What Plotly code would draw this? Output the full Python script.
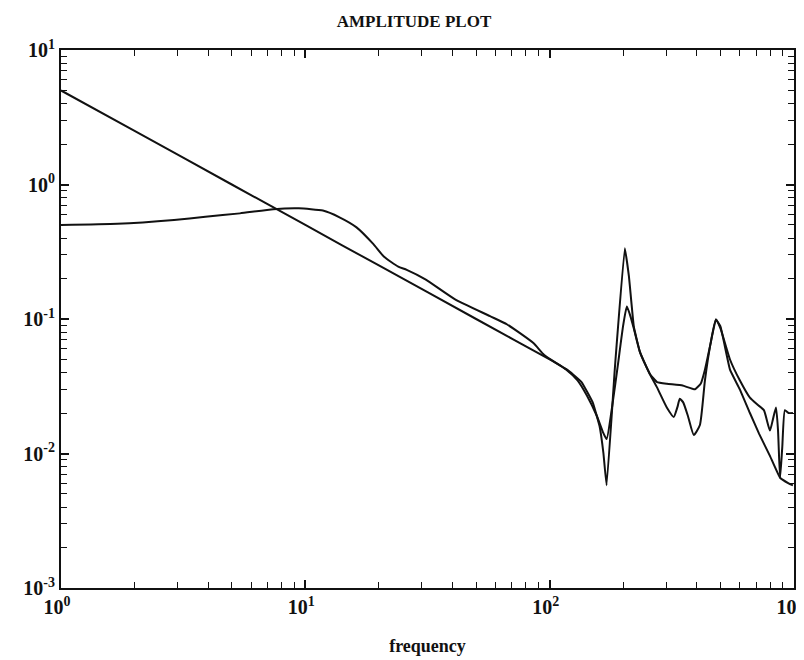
import plotly.graph_objects as go

# curve with the broad bump (measured)
freq_a = [1, 1.7, 2.9, 3.9, 5.4, 7.4, 9.4, 11.8, 13.8, 16.2, 19, 21, 24, 26, 31, 41, 57, 67, 86, 95,
          117, 130, 142, 156, 165, 171, 180, 190, 200, 207, 214, 221, 234, 257, 275, 302, 322, 333,
          341, 352, 368, 389, 412, 432, 455, 479, 500, 547, 600, 660, 710, 753, 797, 820, 844, 860,
          877, 895, 918, 950, 990]
amp_a = [0.50, 0.51, 0.545, 0.575, 0.61, 0.655, 0.665, 0.64, 0.57, 0.48, 0.36, 0.29, 0.245, 0.232,
         0.197, 0.14, 0.105, 0.091, 0.066, 0.054, 0.042, 0.035, 0.027, 0.019, 0.0145, 0.0128, 0.022,
         0.045, 0.09, 0.124, 0.105, 0.085, 0.057, 0.039, 0.031, 0.0219, 0.0187, 0.022, 0.0255, 0.024,
         0.019, 0.0137, 0.0163, 0.035, 0.065, 0.099, 0.085, 0.05, 0.035, 0.026, 0.023, 0.021, 0.0148,
         0.018, 0.022, 0.015, 0.0066, 0.011, 0.021, 0.020, 0.020]

# curve following 5/f at low frequency (model)
freq_b = [1, 2, 5, 10, 20, 50, 100, 120, 135, 150, 160, 166, 171, 185, 203, 211, 221, 234, 257,
          275, 302, 350, 393, 415, 432, 455, 479, 500, 547, 600, 660, 720, 797, 877, 950, 990]
amp_b = [5, 2.5, 1, 0.5, 0.25, 0.1, 0.05, 0.041, 0.034, 0.024, 0.016, 0.01, 0.0058, 0.044, 0.336,
         0.208, 0.088, 0.057, 0.039, 0.034, 0.033, 0.032, 0.030, 0.033, 0.042, 0.065, 0.099, 0.088,
         0.042, 0.030, 0.020, 0.014, 0.0096, 0.0066, 0.0060, 0.0058]

x_ticks = [1, 10, 100, 1000]
x_labels = ["10<sup>0</sup>", "10<sup>1</sup>", "10<sup>2</sup>", "10<sup>3</sup>"]
y_ticks = [0.001, 0.01, 0.1, 1, 10]
y_labels = ["10<sup>-3</sup>", "10<sup>-2</sup>", "10<sup>-1</sup>", "10<sup>0</sup>", "10<sup>1</sup>"]

x_minor = [m * d for d in [1, 10, 100] for m in range(2, 10)]
y_minor = [m * d for d in [0.001, 0.01, 0.1, 1] for m in range(2, 10)]

fnt = "Liberation Serif, Times New Roman, serif"
black = "#111"

fig = go.Figure()
fig.add_trace(go.Scatter(x=freq_a, y=amp_a, mode="lines",
                         line=dict(color=black, width=2, shape="spline", smoothing=0.5),
                         showlegend=False))
fig.add_trace(go.Scatter(x=freq_b, y=amp_b, mode="lines",
                         line=dict(color=black, width=2, shape="spline", smoothing=0.3),
                         showlegend=False))

axis_common = dict(
    type="log", showgrid=False, zeroline=False, automargin=False,
    showline=True, linecolor=black, linewidth=2, mirror="allticks",
    ticks="inside", ticklen=8, tickwidth=1.5, tickcolor=black,
    tickfont=dict(family=fnt, size=20, color=black, weight="bold"),
)

fig.update_xaxes(range=[0, 3], tickvals=x_ticks, ticktext=x_labels, ticklabelshift=-4,
                 minor=dict(tickvals=x_minor, ticks="inside", ticklen=6, tickwidth=1.3,
                            tickcolor=black, showgrid=False),
                 title=dict(text="frequency", font=dict(family=fnt, size=18, color=black, weight="bold"),
                            standoff=22),
                 **axis_common)
fig.update_yaxes(range=[-3, 1], tickvals=y_ticks, ticktext=y_labels,
                 minor=dict(tickvals=y_minor, ticks="inside", ticklen=6, tickwidth=1.3,
                            tickcolor=black, showgrid=False),
                 **axis_common)

fig.update_layout(
    width=804, height=660,
    margin=dict(l=53, r=18, t=42, b=80),
    paper_bgcolor="white", plot_bgcolor="white",
    title=dict(text="AMPLITUDE PLOT", x=0.505, xanchor="center", y=0.98, yanchor="middle",
               font=dict(family=fnt, size=17, color=black, weight="bold")),
)

fig.write_html("out.html")
